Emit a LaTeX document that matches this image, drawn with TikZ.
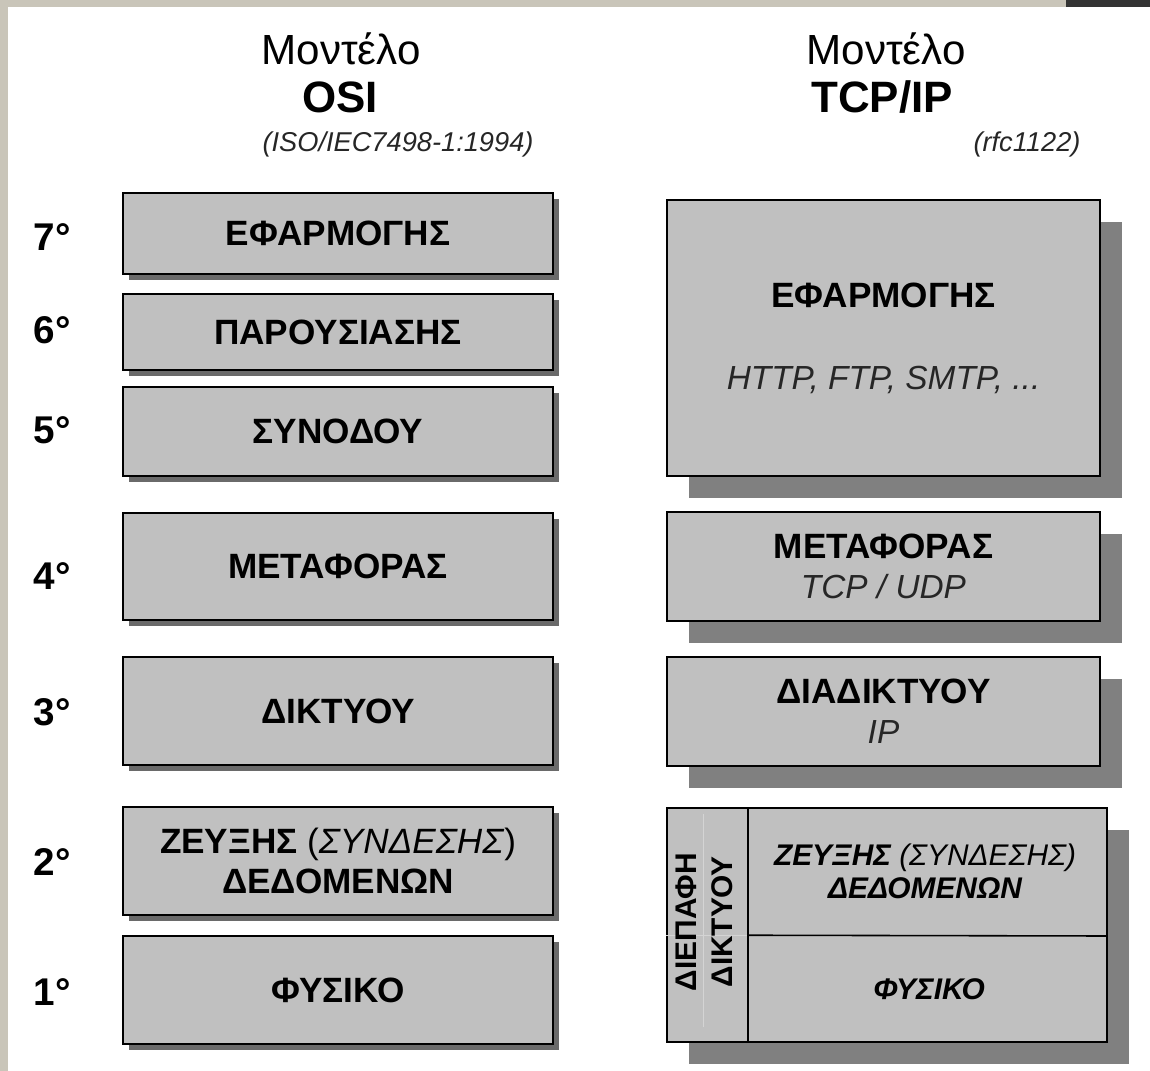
\documentclass[tikz,border=0pt]{standalone}
\usepackage{fontspec}
\setmainfont{Liberation Sans}
\usetikzlibrary{shadows}
\definecolor{boxgray}{HTML}{C0C0C0}
\definecolor{osishade}{HTML}{6A6A6A}
\definecolor{tcpshade}{HTML}{808080}
\definecolor{stripgray}{HTML}{C9C5B9}
\definecolor{darkbar}{HTML}{333333}
\definecolor{faintline}{HTML}{D4D4D4}
\newcommand{\fsz}[2]{\fontsize{#1}{#2}\selectfont}

\begin{document}
\begin{tikzpicture}[x=0.02cm,y=-0.02cm,
    layerbox/.style={draw,line width=.9pt,fill=boxgray,inner sep=0pt,align=center},
    osibox/.style={layerbox,minimum width=8.6cm,font=\fsz{20}{23}\bfseries,
      drop shadow={shadow xshift=.12cm,shadow yshift=-.12cm,fill=osishade,opacity=1}},
    tcpbox/.style={layerbox,minimum width=8.66cm,font=\fsz{20}{23}\bfseries,
      drop shadow={shadow xshift=.44cm,shadow yshift=-.44cm,fill=tcpshade,opacity=1}},
    levelnum/.style={font=\fsz{22}{26}\bfseries},
    proto/.style={font=\fsz{19}{23}\mdseries\itshape,text=black!85}]
  \useasboundingbox (0,0) rectangle (1150,1071);
  % page frame
  \fill[white] (0,0) rectangle (1150,1071);
  \fill[stripgray] (0,0) rectangle (8,1071);
  \fill[stripgray] (0,0) rectangle (1066,7);
  \fill[darkbar] (1066,0) rectangle (1150,7);

  % headings
  \node[font=\fsz{24}{28}] (osiword) at (341,49) {Μοντέλο};
  \node[font=\fsz{25}{30}\bfseries] (osiname) at (340,97) {OSI};
  \node[font=\fsz{15.5}{18}\itshape,text=black!85] (osiref) at (398,144) {(ISO/IEC7498-1:1994)};
  \node[font=\fsz{24}{28}] (tcpword) at (886,49) {Μοντέλο};
  \node[font=\fsz{25}{30}\bfseries] (tcpname) at (882,97) {TCP/IP};
  \node[font=\fsz{15.5}{18}\itshape,text=black!85] (tcpref) at (1027,144) {(rfc1122)};

  % OSI stack
  \node[osibox,minimum height=1.62cm] (osi7) at (338,233.5) {ΕΦΑΡΜΟΓΗΣ};
  \node[osibox,minimum height=1.52cm] (osi6) at (338,332) {ΠΑΡΟΥΣΙΑΣΗΣ};
  \node[osibox,minimum height=1.78cm] (osi5) at (338,431.5) {ΣΥΝΟΔΟΥ};
  \node[osibox,minimum height=2.14cm] (osi4) at (338,566.5) {ΜΕΤΑΦΟΡΑΣ};
  \node[osibox,minimum height=2.16cm] (osi3) at (338,711) {ΔΙΚΤΥΟΥ};
  \node[osibox,minimum height=2.16cm] (osi2) at (338,861)
    {ΖΕΥΞΗΣ {\mdseries(\textit{ΣΥΝΔΕΣΗΣ})}\\ΔΕΔΟΜΕΝΩΝ};
  \node[osibox,minimum height=2.16cm] (osi1) at (338,990) {ΦΥΣΙΚΟ};

  % layer numbers
  \node[levelnum] (n7) at (52,237) {7°};
  \node[levelnum] (n6) at (52,330) {6°};
  \node[levelnum] (n5) at (52,430) {5°};
  \node[levelnum] (n4) at (52,576) {4°};
  \node[levelnum] (n3) at (52,712) {3°};
  \node[levelnum] (n2) at (52,862) {2°};
  \node[levelnum] (n1) at (52,992) {1°};

  % TCP/IP stack
  \node[tcpbox,minimum height=5.52cm] (tcpapp) at (883.5,338)
    {ΕΦΑΡΜΟΓΗΣ\\[23.7pt]{\fsz{19}{23}\mdseries\itshape\color{black!85}HTTP, FTP, SMTP, ...}};
  \node[tcpbox,minimum height=2.18cm] (tcptrans) at (883.5,566.5)
    {ΜΕΤΑΦΟΡΑΣ\\{\fsz{19}{23}\mdseries\itshape\color{black!85}TCP / UDP}};
  \node[tcpbox,minimum height=2.18cm] (tcpnet) at (883.5,711.5)
    {ΔΙΑΔΙΚΤΥΟΥ\\{\fsz{19}{23}\mdseries\itshape\color{black!85}IP}};
  \node[tcpbox,minimum width=8.8cm,minimum height=4.68cm] (tcplink) at (887,925) {};
  \draw[faintline,line width=.4pt] (tcplink.north west) ++(37,7) -- ++(0,213);
  \draw[faintline,line width=.4pt] (tcplink.north west) ++(0,128) -- ++(82,0);
  \draw[line width=.9pt] (tcplink.north west) ++(82,0) -- ++(0,234);
  \draw[line width=.9pt] (tcplink.north west) ++(82,128) -- (tcplink.north east |- 0,936);
  \node[rotate=90,font=\fsz{17}{20.5}\bfseries,align=center] (iface) at (704,922) {ΔΙΕΠΑΦΗ\\ΔΙΚΤΥΟΥ};
  \node[font=\fsz{17}{18.8}\bfseries\itshape,align=center] (datalink) at (925,871)
    {ΖΕΥΞΗΣ {\mdseries(ΣΥΝΔΕΣΗΣ)}\\ΔΕΔΟΜΕΝΩΝ};
  \node[font=\fsz{17}{20}\bfseries\itshape] (phys) at (929,989) {ΦΥΣΙΚΟ};
\end{tikzpicture}
\end{document}
